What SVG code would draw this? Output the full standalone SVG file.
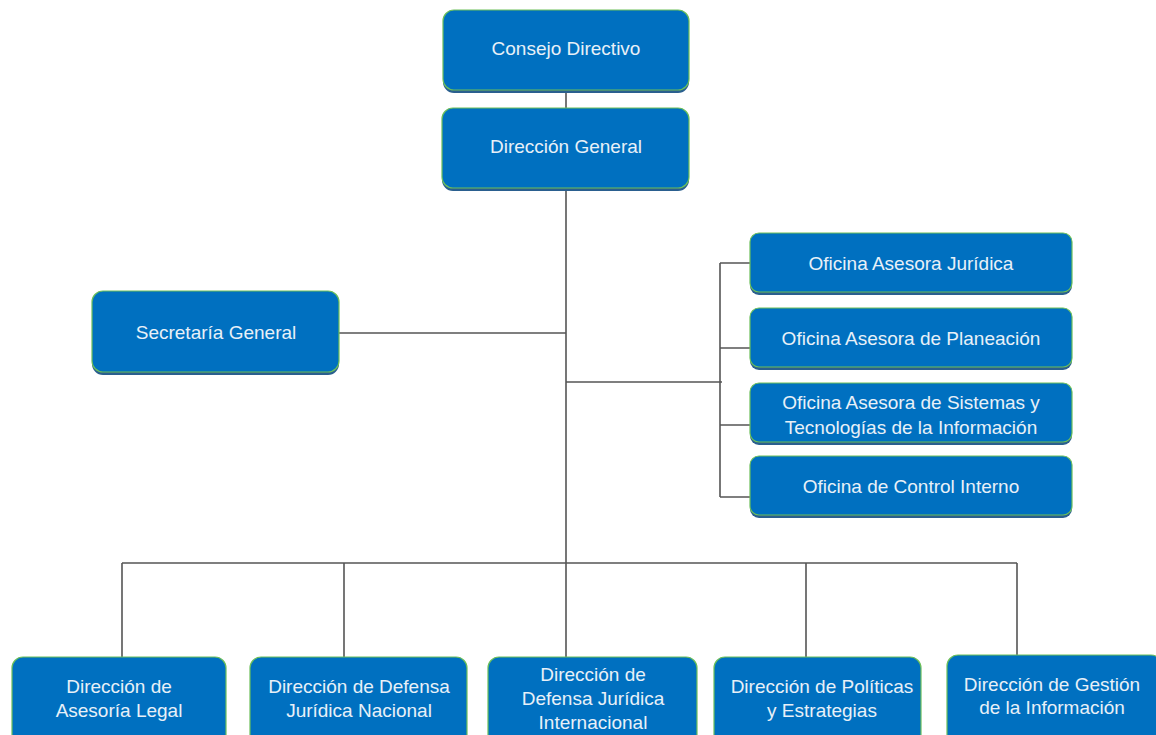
<svg xmlns="http://www.w3.org/2000/svg" width="1156" height="735" viewBox="0 0 1156 735">
<style>
.sh{fill:#2a5f8f;}
.bx{fill:#0070c0;stroke:#6cbf5a;stroke-width:1.2;}
.t{font-family:"Liberation Sans",Arial,sans-serif;font-size:19px;fill:#e8f0f8;text-anchor:middle;}
.ln{stroke:#555;stroke-width:1.6;fill:none;}
</style>
<rect width="1156" height="735" fill="#ffffff"/>
<g id="connectors">
<path class="ln" d="M566 91V108M566 189V563M339 333H566M566 382H722M720 263V497M720 263H750M720 348H750M720 425H750M720 497H750M122 563H1017M122 563V657M344 563V657M566 563V657M806 563V657M1017 563V655"/>
</g>
<g id="consejo">
<rect class="sh" x="443" y="12" width="246" height="81" rx="11"/>
<rect class="bx" x="443" y="10" width="246" height="80" rx="11"/>
<text class="t" x="566" y="55">Consejo Directivo</text>
</g>
<g id="direccion-general">
<rect class="sh" x="442" y="110" width="247" height="81" rx="11"/>
<rect class="bx" x="442" y="108" width="247" height="80" rx="11"/>
<text class="t" x="566" y="153">Dirección General</text>
</g>
<g id="secretaria">
<rect class="sh" x="92" y="293" width="247" height="82" rx="11"/>
<rect class="bx" x="92" y="291" width="247" height="81" rx="11"/>
<text class="t" x="216" y="339">Secretaría General</text>
</g>
<g id="oficina-juridica">
<rect class="sh" x="750" y="235" width="322" height="60" rx="9"/>
<rect class="bx" x="750" y="233" width="322" height="59" rx="9"/>
<text class="t" x="911" y="270">Oficina Asesora Jurídica</text>
</g>
<g id="oficina-planeacion">
<rect class="sh" x="750" y="310" width="322" height="60" rx="9"/>
<rect class="bx" x="750" y="308" width="322" height="59" rx="9"/>
<text class="t" x="911" y="345">Oficina Asesora de Planeación</text>
</g>
<g id="oficina-sistemas">
<rect class="sh" x="750" y="385" width="322" height="60" rx="9"/>
<rect class="bx" x="750" y="383" width="322" height="59" rx="9"/>
<text class="t" x="911" y="409">Oficina Asesora de Sistemas y</text>
<text class="t" x="911" y="434">Tecnologías de la Información</text>
</g>
<g id="oficina-control">
<rect class="sh" x="750" y="458" width="322" height="60" rx="9"/>
<rect class="bx" x="750" y="456" width="322" height="59" rx="9"/>
<text class="t" x="911" y="493">Oficina de Control Interno</text>
</g>
<g id="dir-asesoria">
<rect class="sh" x="12" y="659" width="214" height="90" rx="11"/>
<rect class="bx" x="12" y="657" width="214" height="90" rx="11"/>
<text class="t" x="119" y="693">Dirección de</text>
<text class="t" x="119" y="717">Asesoría Legal</text>
</g>
<g id="dir-defensa-nacional">
<rect class="sh" x="250" y="659" width="217" height="90" rx="11"/>
<rect class="bx" x="250" y="657" width="217" height="90" rx="11"/>
<text class="t" x="359" y="693">Dirección de Defensa</text>
<text class="t" x="359" y="717">Jurídica Nacional</text>
</g>
<g id="dir-defensa-internacional">
<rect class="sh" x="488" y="659" width="209" height="90" rx="11"/>
<rect class="bx" x="488" y="657" width="209" height="90" rx="11"/>
<text class="t" x="593" y="681">Dirección de</text>
<text class="t" x="593" y="705">Defensa Jurídica</text>
<text class="t" x="593" y="729">Internacional</text>
</g>
<g id="dir-politicas">
<rect class="sh" x="714" y="659" width="207" height="90" rx="11"/>
<rect class="bx" x="714" y="657" width="207" height="90" rx="11"/>
<text class="t" x="822" y="693">Dirección de Políticas</text>
<text class="t" x="822" y="717">y Estrategias</text>
</g>
<g id="dir-gestion">
<rect class="sh" x="947" y="657" width="215" height="90" rx="11"/>
<rect class="bx" x="947" y="655" width="215" height="90" rx="11"/>
<text class="t" x="1052" y="691">Dirección de Gestión</text>
<text class="t" x="1052" y="714">de la Información</text>
</g>
</svg>
